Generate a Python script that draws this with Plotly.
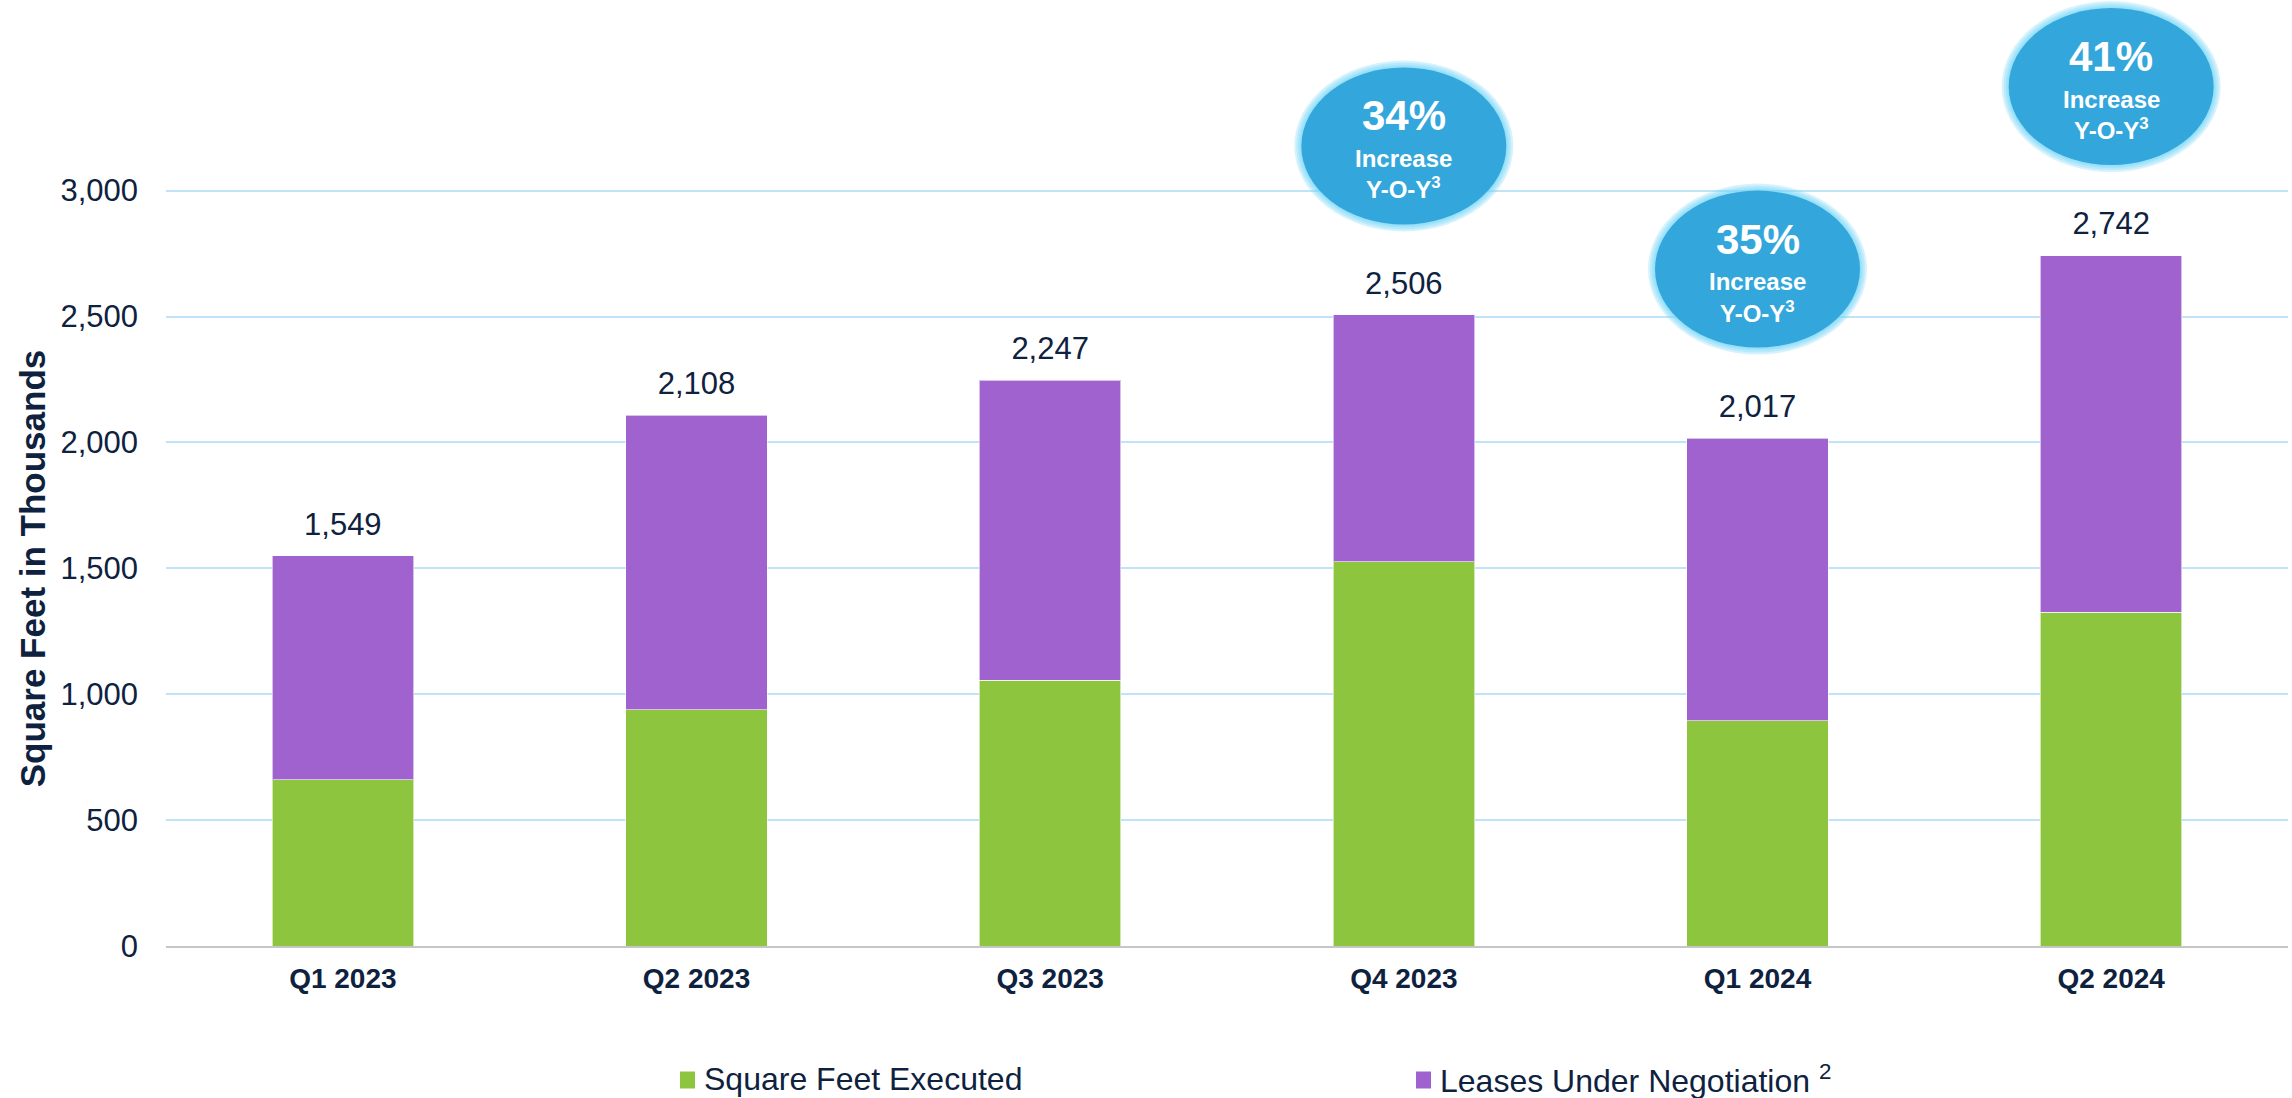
import plotly.graph_objects as go

# ---- data ----
quarters = ["Q1 2023", "Q2 2023", "Q3 2023", "Q4 2023", "Q1 2024", "Q2 2024"]
executed = [660, 938, 1055, 1527, 894, 1326]
totals = [1549, 2108, 2247, 2506, 2017, 2742]
negotiation = [t - e for t, e in zip(totals, executed)]
total_labels = [f"{t:,}" for t in totals]

bubble_quarters = ["Q4 2023", "Q1 2024", "Q2 2024"]
bubble_pcts = ["34%", "35%", "41%"]
bubble_line2 = "Increase"
bubble_line3 = "Y-O-Y<sup>3</sup>"

series_names = ["Square Feet Executed", "Leases Under Negotiation <sup>2</sup>"]
y_ticks = [0, 500, 1000, 1500, 2000, 2500, 3000]

# ---- styles ----
FONT = "Arial, Liberation Sans, sans-serif"
NAVY = "#0E2240"
GREEN = "#8DC53F"
PURPLE = "#A062CE"
BUBBLE = "#33A7DB"
GLOW = "rgba(120, 215, 248, 0.30)"
GRID = "#BFE3F8"
series_colors = [GREEN, PURPLE]

W, H = 2292, 1098
M_L, M_R, M_T, M_B = 166, 4, 0, 152
plot_w = W - M_L - M_R
plot_h = H - M_T - M_B
px_per_unit = 125.9 / 500.0
y_max = plot_h / px_per_unit


def paper_x(px):
    return (px - M_L) / plot_w


def paper_y(py):
    return (H - M_B - py) / plot_h


fig = go.Figure()
for vals, name, col in zip([executed, negotiation], series_names, series_colors):
    fig.add_trace(go.Bar(
        x=quarters, y=vals, name=name, marker_color=col,
        marker_line=dict(color="rgba(255,255,255,0.6)", width=1), width=0.4,
    ))
fig.add_trace(go.Scatter(
    x=quarters, y=totals, mode="markers+text", text=total_labels,
    marker=dict(size=20, color="rgba(0,0,0,0)"),
    textposition="top center", textfont=dict(family=FONT, size=31, color=NAVY),
    showlegend=False, hoverinfo="skip", cliponaxis=False,
))

# ---- bubbles ----
BW, BH = 205, 157
LIFT = 169  # px between bar top and bubble centre
shapes = []
annotations = []
for q, pct in zip(bubble_quarters, bubble_pcts):
    i = quarters.index(q)
    yt = totals[i]
    for g in (7, 5, 3, 1.5):
        shapes.append(dict(
            type="circle", xref="x", yref="y", xsizemode="pixel", ysizemode="pixel",
            xanchor=i, yanchor=yt,
            x0=-BW / 2 - g, x1=BW / 2 + g, y0=LIFT - BH / 2 - g, y1=LIFT + BH / 2 + g,
            fillcolor=GLOW, line=dict(width=0), layer="above",
        ))
    shapes.append(dict(
        type="circle", xref="x", yref="y", xsizemode="pixel", ysizemode="pixel",
        xanchor=i, yanchor=yt,
        x0=-BW / 2, x1=BW / 2, y0=LIFT - BH / 2, y1=LIFT + BH / 2,
        fillcolor=BUBBLE, line=dict(width=0), layer="above",
    ))
    for txt, size, rel in ((pct, 42, -30), (bubble_line2, 24, 12.5), (bubble_line3, 24, 42.5)):
        annotations.append(dict(
            x=i, y=yt, xref="x", yref="y", text=txt, showarrow=False,
            xanchor="center", yanchor="middle", yshift=LIFT - rel,
            font=dict(family=FONT, size=size, color="white", weight="bold"),
        ))

# y-axis title (centred on the 0-3,000 range)
annotations.append(dict(
    x=paper_x(32), xref="paper", y=1500, yref="y",
    text="Square Feet in Thousands", textangle=-90, showarrow=False,
    xanchor="center", yanchor="middle",
    font=dict(family=FONT, size=35, color=NAVY, weight="bold"),
))

# ---- legend (drawn in the bottom margin) ----
LEG_Y = 1079
leg_items = [(680, 702), (1416, 1438)]  # square left px, text left px
for (sq_x, tx_x), name, col in zip(leg_items, series_names, series_colors):
    shapes.append(dict(
        type="rect", xref="paper", yref="paper",
        x0=paper_x(sq_x), x1=paper_x(sq_x + 15),
        y0=paper_y(LEG_Y + 9.5), y1=paper_y(LEG_Y - 7.5),
        fillcolor=col, line=dict(width=0),
    ))
    annotations.append(dict(
        x=paper_x(tx_x), y=paper_y(LEG_Y), xref="paper", yref="paper",
        text=name, showarrow=False, xanchor="left", yanchor="middle",
        font=dict(family=FONT, size=32, color=NAVY),
    ))

fig.update_layout(
    width=W, height=H,
    margin=dict(l=M_L, r=M_R, t=M_T, b=M_B, pad=0, autoexpand=False),
    barmode="stack",
    plot_bgcolor="white", paper_bgcolor="white",
    font=dict(family=FONT, color=NAVY),
    shapes=shapes, annotations=annotations,
    showlegend=False,
)
fig.update_xaxes(
    type="category", range=[-0.5, 5.5], showgrid=False,
    showline=True, linecolor="#C6C6C6", linewidth=2,
    tickfont=dict(family=FONT, size=28, color=NAVY, weight="bold"),
    ticks="", ticklabelstandoff=6,
)
fig.update_yaxes(
    range=[0, y_max], tickvals=y_ticks, tickformat=",",
    showgrid=True, gridcolor=GRID, gridwidth=2, zeroline=False,
    tickfont=dict(family=FONT, size=31, color=NAVY),
    ticks="", ticklabelstandoff=27,
)

fig.write_html(
    "out.html",
    config={"displayModeBar": False},
    post_script="document.body.style.margin='0';",
)
